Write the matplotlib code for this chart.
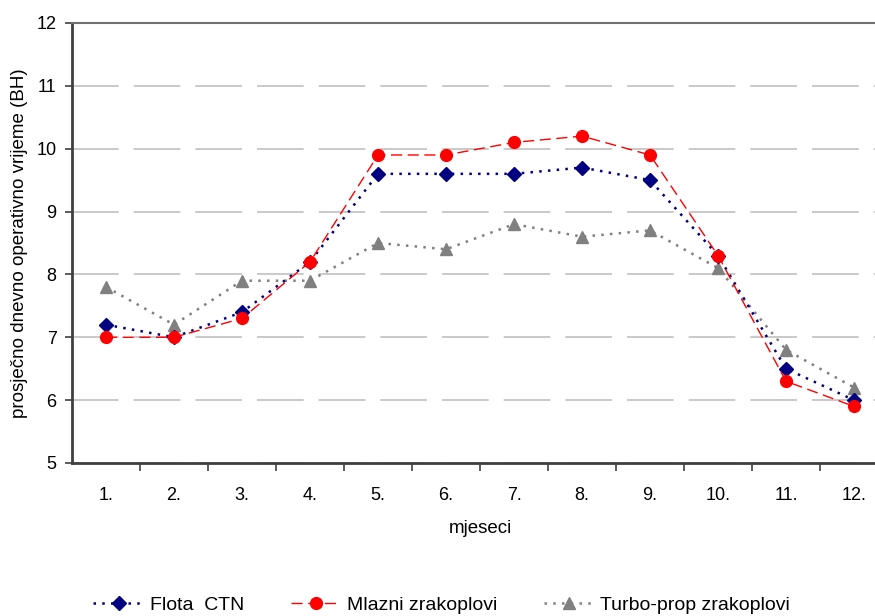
import matplotlib.pyplot as plt
import numpy as np

# Podaci
mjeseci = ["1.", "2.", "3.", "4.", "5.", "6.", "7.", "8.", "9.", "10.", "11.", "12."]
flota_ctn = [7.2, 7.0, 7.4, 8.2, 9.6, 9.6, 9.6, 9.7, 9.5, 8.3, 6.5, 6.0]
mlazni = [7.0, 7.0, 7.3, 8.2, 9.9, 9.9, 10.1, 10.2, 9.9, 8.3, 6.3, 5.9]
turbo_prop = [7.8, 7.2, 7.9, 7.9, 8.5, 8.4, 8.8, 8.6, 8.7, 8.1, 6.8, 6.2]

plt.rcParams["font.family"] = ["Liberation Sans", "DejaVu Sans"]

fig = plt.figure(figsize=(8.75, 6.16), dpi=100)
ax = fig.add_axes([0.0823, 0.2484, 0.9326, 0.7143])

x = np.arange(len(mjeseci))

ax.plot(x, flota_ctn, color="#000080", linestyle=(0, (1, 2.5)), linewidth=1.8,
        marker="D", markersize=7, label="Flota  CTN", zorder=3)
ax.plot(x, mlazni, color="#ff0000", linestyle=(0, (8, 4)), linewidth=1,
        marker="o", markersize=8.5, label="Mlazni zrakoplovi", zorder=3)
ax.plot(x, turbo_prop, color="#808080", linestyle=(0, (1, 2.5)), linewidth=1.8,
        marker="^", markersize=8.5, label="Turbo-prop zrakoplovi", zorder=2)

# Osi
ax.set_xlim(-0.5, len(mjeseci) - 0.5)
ax.set_ylim(5, 12)
ax.set_yticks(range(5, 13))
ax.set_xticks(x)
ax.set_xticklabels(mjeseci, fontsize=13)
ax.tick_params(axis="x", length=0, pad=17)
ax.set_xticks(x[:-1] + 0.5, minor=True)
ax.tick_params(axis="x", which="minor", length=6, width=1.2, color="#404040", direction="out")
ax.tick_params(axis="y", labelsize=13, length=5, width=1.2, color="#404040", direction="out", pad=6)

ax.yaxis.grid(True, color="#c0c0c0", linestyle=(0, (28, 9)), linewidth=1.2)
ax.set_axisbelow(True)

for side in ["left", "bottom"]:
    ax.spines[side].set_color("#404040")
    ax.spines[side].set_linewidth(2)
ax.spines["top"].set_color("#707070")
ax.spines["top"].set_linewidth(1.5)
ax.spines["right"].set_visible(False)

ax.set_ylabel("prosječno dnevno operativno vrijeme (BH)", fontsize=13.5, labelpad=6)
ax.set_xlabel("mjeseci", fontsize=13.5, labelpad=12)

fig.legend(loc="center", bbox_to_anchor=(0.505, 0.018), ncol=3, frameon=False,
           fontsize=14, handlelength=2.6, handletextpad=0.3, columnspacing=2.4)

fig.savefig("out.png", dpi=100)
